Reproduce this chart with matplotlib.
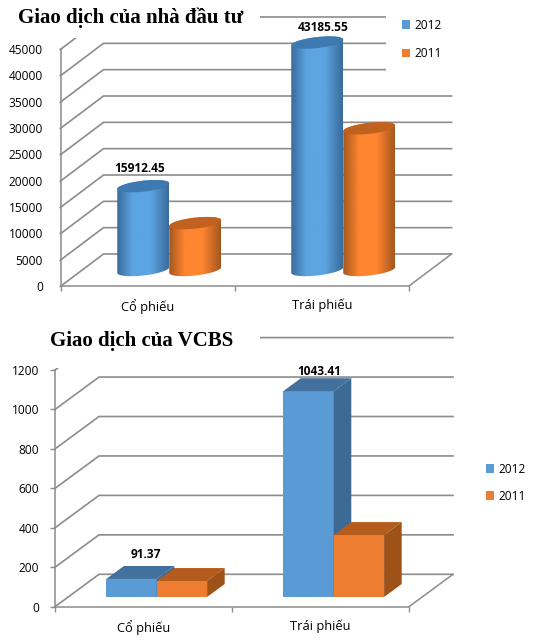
import numpy as np
import matplotlib
matplotlib.use("Agg")
from matplotlib import pyplot as plt
from matplotlib.colors import LinearSegmentedColormap
from matplotlib.patches import Patch, Polygon, Rectangle
from matplotlib.transforms import IdentityTransform

categories = ["Cổ phiếu", "Trái phiếu"]
series_names = ["2012", "2011"]

investor_title = "Giao dịch của nhà đầu tư"
investor_2012 = [15912.45, 43185.55]
investor_2011 = [8900, 26900]
investor_labels = ["15912.45", "43185.55"]
investor_ticks = [0, 5000, 10000, 15000, 20000, 25000, 30000, 35000, 40000, 45000]

vcbs_title = "Giao dịch của VCBS"
vcbs_2012 = [91.37, 1043.41]
vcbs_2011 = [81, 314]
vcbs_labels = ["91.37", "1043.41"]
vcbs_ticks = [0, 200, 400, 600, 800, 1000, 1200]

W, H = 533, 640
BLUE = "#5b9bd5"
ORANGE = "#ed7d31"
GRID = "#8c8c8c"
FONT = "Open Sans"
FS = 8.6
PT = 0.72  # points per pixel at dpi 100

plt.rcParams["font.family"] = FONT
fig = plt.figure(figsize=(W / 100, H / 100), dpi=100)


def make_axes(left, right, top, bottom, ticks, tick_len, tick_pad, depth):
    # pixel box of the front plane, y counted from the top of the picture
    ax = fig.add_axes([left / W, 1 - bottom / H, (right - left) / W, (bottom - top) / H])
    ax.patch.set_alpha(0)
    ax.set_xlim(-0.5, 1.5)
    ax.set_ylim(ticks[0], ticks[-1])
    ax.set_yticks(ticks)
    ax.set_xticks([-0.5, 0.5, 1.5])
    ax.set_xticklabels([])
    ax.set_xticks([0, 1], minor=True)
    ax.set_xticklabels(categories, minor=True)
    ax.tick_params(axis="y", length=tick_len * PT, width=1, color=GRID, pad=tick_pad * PT, labelsize=FS)
    ax.tick_params(axis="x", which="major", length=5 * PT, width=1, color=GRID)
    ax.tick_params(axis="x", which="minor", length=0, pad=13 * PT, labelsize=9.3)
    for side in ["top", "right"]:
        ax.spines[side].set_visible(False)
    for side in ["left", "bottom"]:
        ax.spines[side].set_color(GRID)
        ax.spines[side].set_linewidth(1.1)

    # walls and floor, drawn in display units because of the fake depth
    for t in ticks:
        p0 = ax.transData.transform((-0.5, t))
        p1 = p0 + depth
        p2 = ax.transData.transform((1.5, t)) + depth
        ax.plot([p0[0], p1[0], p2[0]], [p0[1], p1[1], p2[1]], color=GRID, lw=1.2,
                transform=IdentityTransform(), clip_on=False, zorder=1)
    p0 = ax.transData.transform((1.5, ticks[0]))
    ax.plot([p0[0], p0[0] + depth[0]], [p0[1], p0[1] + depth[1]], color=GRID, lw=1.1,
            transform=IdentityTransform(), clip_on=False, zorder=1)
    return ax


def cylinder(ax, x, width, value, depth, edge_c, mid_c, top_c, z):
    a = width * (ax.transData.transform((1, 0))[0] - ax.transData.transform((0, 0))[0]) / 2
    b, slope = 5.5, 0.11
    bottom = ax.transData.transform((x, 0)) + depth * 0.5
    top = ax.transData.transform((x, value)) + depth * 0.5
    t = np.linspace(0, 2 * np.pi, 90)
    ex = a * np.cos(t)
    ey = b * np.sin(t) + slope * a * np.cos(t)

    low = np.linspace(np.pi, 2 * np.pi, 45)
    lx = a * np.cos(low)
    ly = b * np.sin(low) + slope * a * np.cos(low)
    up = np.linspace(0, np.pi, 45)
    ux = a * np.cos(up)
    uy = b * np.sin(up) + slope * a * np.cos(up)
    outline = np.vstack([
        np.column_stack([bottom[0] + lx, bottom[1] + ly]),
        np.column_stack([top[0] + ux, top[1] + uy]),
    ])
    body = Polygon(outline, closed=True, facecolor="none", edgecolor="none",
                   transform=IdentityTransform(), clip_on=False, zorder=z)
    ax.add_patch(body)
    cmap = LinearSegmentedColormap.from_list(
        "shade", [(0, edge_c), (0.3, mid_c), (0.65, mid_c), (1, edge_c)])
    im = ax.imshow(np.linspace(0, 1, 64).reshape(1, -1), cmap=cmap, aspect="auto",
                   extent=(bottom[0] - a, bottom[0] + a, bottom[1] - 12, top[1] + 12),
                   transform=IdentityTransform(), zorder=z)
    im.set_clip_box(fig.bbox)
    im.set_clip_path(body)
    ax.add_patch(Polygon(np.column_stack([top[0] + ex, top[1] + ey]), closed=True,
                         facecolor=top_c, edgecolor="none", transform=IdentityTransform(),
                         clip_on=False, zorder=z + 0.1))


def box(ax, x, width, value, depth, face, top_c, side_c, z):
    front = 0.3 * depth
    back = 0.7 * depth
    l = ax.transData.transform((x - width / 2, 0)) + front
    r = ax.transData.transform((x + width / 2, 0)) + front
    tl = ax.transData.transform((x - width / 2, value)) + front
    tr = ax.transData.transform((x + width / 2, value)) + front
    d = back - front
    for pts, c in [([l, r, tr, tl], face),
                   ([tl, tr, tr + d, tl + d], top_c),
                   ([r, r + d, tr + d, tr], side_c)]:
        ax.add_patch(Polygon(np.array(pts), closed=True, facecolor=c, edgecolor="none",
                             transform=IdentityTransform(), clip_on=False, zorder=z))


def cover(x0, y0, x1, y1):
    fig.add_artist(Rectangle((x0 / W, 1 - y1 / H), (x1 - x0) / W, (y1 - y0) / H,
                             facecolor="white", edgecolor="none",
                             transform=fig.transFigure, zorder=2))


def value_label(ax, x, value, text, dx, dy):
    p = ax.transData.transform((x, value))
    ax.annotate(text, xy=(p[0] + dx, p[1] + dy), xycoords="figure pixels", ha="center", va="center",
                fontsize=FS, fontweight="bold", color="black", zorder=10, annotation_clip=False)


def legend(top_px, left_px, spacing, pad):
    handles = [Patch(facecolor=BLUE, label=series_names[0]),
               Patch(facecolor=ORANGE, label=series_names[1])]
    leg = fig.legend(handles=handles, loc="upper left", bbox_to_anchor=(left_px / W, 1 - top_px / H),
                     borderaxespad=0, frameon=True, fancybox=False, framealpha=1,
                     edgecolor="none", fontsize=FS, handlelength=0.75, handleheight=0.75,
                     handletextpad=0.35, labelspacing=spacing, borderpad=pad)
    leg.set_zorder(3)


# upper chart, cylinders
depth_a = np.array([42.5, 32.0])
ax_a = make_axes(61, 409, 49, 286, investor_ticks, 2, 16, depth_a)
w_a = 52 / 174
for i in range(2):
    cylinder(ax_a, i - w_a / 2, w_a, investor_2012[i], depth_a, "#3a6c9c", "#5ca4e2", "#3f79b2", 4)
    cylinder(ax_a, i + w_a / 2, w_a, investor_2011[i], depth_a, "#a5571e", "#ff8530", "#c0611f", 5)
value_label(ax_a, 0 - w_a / 2, investor_2012[0], investor_labels[0], 18, 34)
value_label(ax_a, 1 - w_a / 2, investor_2012[1], investor_labels[1], 27, 31)
cover(45, 0, 260, 38)
fig.text(18 / W, 1 - 18 / H, investor_title, family="Liberation Serif", fontweight="bold",
         fontsize=15, va="center", ha="left", zorder=4)
legend(3, 386, 1.3, 1.3)

# lower chart, boxes
depth_b = np.array([44.0, 32.4])
ax_b = make_axes(55, 409, 370, 606.7, vcbs_ticks, 5, 11, depth_b)
w_b = 50.4 / 177
for i in range(2):
    box(ax_b, i - w_b / 2, w_b, vcbs_2012[i], depth_b, BLUE, "#41719c", "#3d6a94", 4)
    box(ax_b, i + w_b / 2, w_b, vcbs_2011[i], depth_b, ORANGE, "#b35c1e", "#9e5218", 5)
value_label(ax_b, 0 - w_b / 2, vcbs_2012[0], vcbs_labels[0], 28, 34)
value_label(ax_b, 1 - w_b / 2, vcbs_2012[1], vcbs_labels[1], 24, 29)
cover(45, 322, 260, 368)
fig.text(50 / W, 1 - 341 / H, vcbs_title, family="Liberation Serif", fontweight="bold",
         fontsize=15, va="center", ha="left", zorder=4)
legend(447, 470, 1.2, 1.3)

plt.savefig("out.png", dpi=100)
